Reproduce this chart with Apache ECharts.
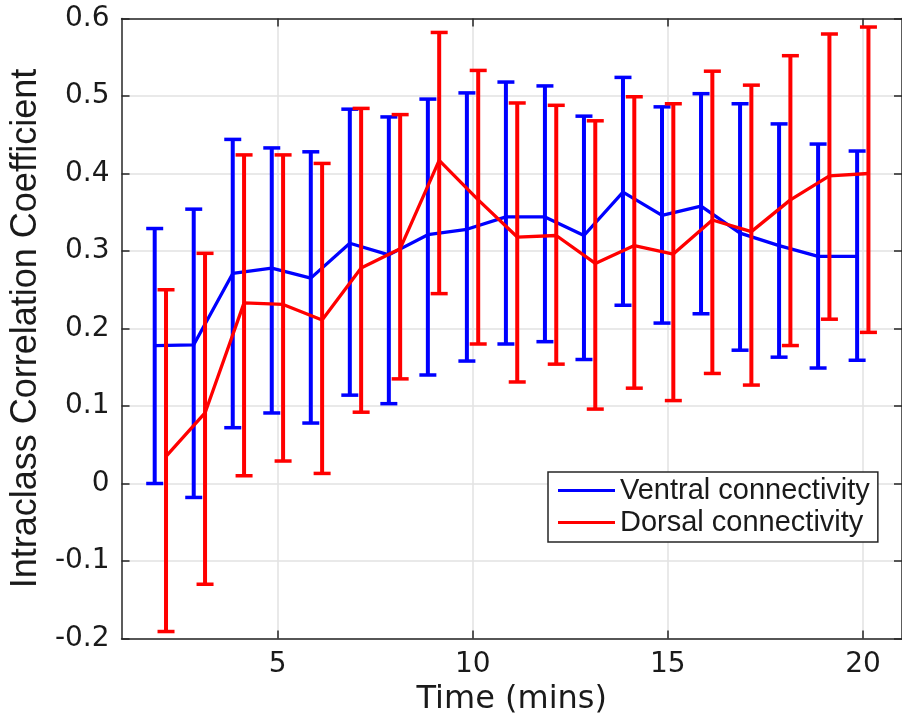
<!DOCTYPE html>
<html>
<head>
<meta charset="utf-8">
<script src="https://cdn.jsdelivr.net/npm/echarts@6/dist/echarts.min.js"></script>
<style>
  html, body { margin: 0; padding: 0; background: #fff; }
  #chart { width: 902px; height: 727px; }
</style>
</head>
<body>
<div id="chart"></div>
<script>
// ---- data ----
const times = [2, 3, 4, 5, 6, 7, 8, 9, 10, 11, 12, 13, 14, 15, 16, 17, 18, 19, 20];

const ventralMean = [0.178, 0.179, 0.271, 0.278, 0.265, 0.310, 0.295, 0.321, 0.328, 0.344, 0.344, 0.320, 0.376, 0.346, 0.358, 0.323, 0.307, 0.293, 0.293];
const ventralLow  = [0.000, -0.018, 0.072, 0.091, 0.078, 0.114, 0.103, 0.140, 0.158, 0.180, 0.183, 0.160, 0.230, 0.207, 0.219, 0.172, 0.163, 0.149, 0.159];
const ventralHigh = [0.329, 0.354, 0.444, 0.433, 0.428, 0.483, 0.473, 0.496, 0.504, 0.518, 0.513, 0.474, 0.524, 0.486, 0.503, 0.490, 0.464, 0.438, 0.429];

const dorsalMean = [0.035, 0.091, 0.233, 0.231, 0.211, 0.278, 0.303, 0.417, 0.366, 0.318, 0.320, 0.284, 0.307, 0.296, 0.340, 0.325, 0.366, 0.397, 0.400];
const dorsalLow  = [-0.191, -0.130, 0.010, 0.029, 0.013, 0.092, 0.135, 0.245, 0.180, 0.131, 0.154, 0.096, 0.123, 0.107, 0.142, 0.127, 0.178, 0.212, 0.195];
const dorsalHigh = [0.250, 0.297, 0.424, 0.424, 0.413, 0.484, 0.476, 0.582, 0.533, 0.491, 0.488, 0.468, 0.499, 0.490, 0.532, 0.514, 0.552, 0.580, 0.589];

const xTicks = [5, 10, 15, 20];
const seriesNames = ['Ventral connectivity', 'Dorsal connectivity'];
const xTitle = 'Time (mins)';
const yTitle = 'Intraclass Correlation Coefficient';

// ---- style ----
const BLUE = '#0000ff', RED = '#ff0000';
const AXIS = '#262626', GRID = '#e2e2e2';
const ventralShift = -0.15, dorsalShift = 0.14;

function pts(ts, vals, shift) { return ts.map((t, i) => [t + shift, vals[i]]); }
function bars(ts, lo, hi, shift) { return ts.map((t, i) => [t + shift, lo[i], hi[i]]); }

function errRender(color) {
  return function (params, api) {
    const x = api.value(0), lo = api.value(1), hi = api.value(2);
    const a = api.coord([x, lo]), b = api.coord([x, hi]);
    const hw = 8.5;
    const style = { stroke: color, lineWidth: 4, fill: null };
    const capStyle = { stroke: color, lineWidth: 3.5, fill: null };
    return {
      type: 'group',
      children: [
        { type: 'line', shape: { x1: a[0], y1: a[1], x2: b[0], y2: b[1] }, style: style },
        { type: 'line', shape: { x1: b[0] - hw, y1: b[1], x2: b[0] + hw, y2: b[1] }, style: capStyle },
        { type: 'line', shape: { x1: a[0] - hw, y1: a[1], x2: a[0] + hw, y2: a[1] }, style: capStyle }
      ]
    };
  };
}

const tickFont = { fontFamily: 'DejaVu Sans', fontSize: 28, color: '#1a1a1a' };

const chart = echarts.init(document.getElementById('chart'), null, { renderer: 'canvas' });
chart.setOption({
  animation: false,
  backgroundColor: '#ffffff',
  grid: { left: 121.5, top: 18.5, width: 788, height: 620, containLabel: false },
  legend: {
    orient: 'vertical',
    left: 548, top: 472,
    padding: [4, 8, 5, 10],
    itemGap: 3,
    itemWidth: 57, itemHeight: 3,
    icon: 'rect',
    backgroundColor: '#ffffff',
    borderColor: AXIS, borderWidth: 1.5, borderRadius: 0,
    textStyle: { fontFamily: 'Liberation Sans', fontSize: 29, lineHeight: 28, color: '#1a1a1a' },
    data: seriesNames
  },
  xAxis: [{
    type: 'value', min: 1, max: 21,
    name: xTitle, nameLocation: 'middle', nameGap: 38,
    nameTextStyle: { fontFamily: 'DejaVu Sans', fontSize: 32, color: '#1a1a1a' },
    axisLine: { show: true, onZero: false, lineStyle: { color: AXIS, width: 1.5 } },
    axisTick: { show: true, inside: true, length: 8, customValues: xTicks, lineStyle: { color: AXIS, width: 1.5 } },
    axisLabel: Object.assign({ show: true, margin: 12, customValues: xTicks, formatter: v => String(v) }, tickFont),
    splitLine: { show: true, lineStyle: { color: GRID, width: 1.5 } }
  }, {
    type: 'value', min: 1, max: 21, position: 'top',
    axisLine: { show: true, onZero: false, lineStyle: { color: AXIS, width: 1.5 } },
    axisTick: { show: true, inside: true, length: 8, customValues: xTicks, lineStyle: { color: AXIS, width: 1.5 } },
    axisLabel: { show: false },
    splitLine: { show: false }
  }],
  yAxis: [{
    type: 'value', min: -0.2, max: 0.6, interval: 0.1,
    name: yTitle, nameLocation: 'middle', nameGap: 76,
    nameTextStyle: { fontFamily: 'Liberation Sans', fontSize: 36, color: '#1a1a1a' },
    axisLine: { show: true, onZero: false, lineStyle: { color: AXIS, width: 1.5 } },
    axisTick: { show: true, inside: true, length: 8, lineStyle: { color: AXIS, width: 1.5 } },
    axisLabel: Object.assign({ show: true, margin: 12, formatter: v => { const r = Math.round(v * 10) / 10; return r === 0 ? '0' : r.toFixed(1); } }, tickFont),
    splitLine: { show: true, lineStyle: { color: GRID, width: 1.5 } }
  }, {
    type: 'value', min: -0.2, max: 0.6, interval: 0.1, position: 'right',
    axisLine: { show: true, onZero: false, lineStyle: { color: AXIS, width: 1.5 } },
    axisTick: { show: true, inside: true, length: 8, lineStyle: { color: AXIS, width: 1.5 } },
    axisLabel: { show: false },
    splitLine: { show: false }
  }],
  series: [
    {
      name: 'ventral-err', type: 'custom', xAxisIndex: 0, yAxisIndex: 0,
      renderItem: errRender(BLUE), encode: { x: 0, y: [1, 2] },
      data: bars(times, ventralLow, ventralHigh, ventralShift), z: 2, silent: true
    },
    {
      name: seriesNames[0], type: 'line', xAxisIndex: 0, yAxisIndex: 0,
      data: pts(times, ventralMean, ventralShift),
      showSymbol: false, symbol: 'none', color: BLUE,
      lineStyle: { color: BLUE, width: 3.3 }, z: 3, silent: true
    },
    {
      name: 'dorsal-err', type: 'custom', xAxisIndex: 0, yAxisIndex: 0,
      renderItem: errRender(RED), encode: { x: 0, y: [1, 2] },
      data: bars(times, dorsalLow, dorsalHigh, dorsalShift), z: 4, silent: true
    },
    {
      name: seriesNames[1], type: 'line', xAxisIndex: 0, yAxisIndex: 0,
      data: pts(times, dorsalMean, dorsalShift),
      showSymbol: false, symbol: 'none', color: RED,
      lineStyle: { color: RED, width: 3.3 }, z: 5, silent: true
    }
  ]
});
</script>
</body>
</html>
